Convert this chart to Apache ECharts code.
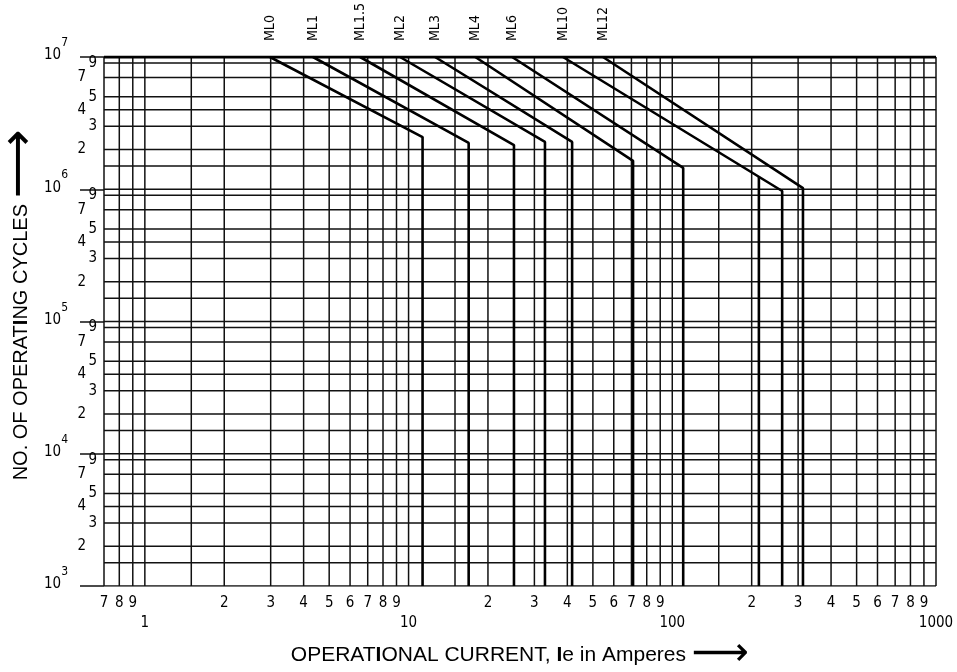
<!DOCTYPE html>
<html><head><meta charset="utf-8">
<script src="https://cdn.jsdelivr.net/npm/echarts@6/dist/echarts.min.js"></script>
<style>html,body{margin:0;padding:0;background:#fff}#c{width:957px;height:672px}</style>
</head><body><div id="c"></div>
<script>
// ---- data ----
const curveNames   = ['ML0', 'ML1', 'ML1.5', 'ML2', 'ML3', 'ML4', 'ML6', 'ML10', 'ML12'];
const startCurrent = [2.98, 4.34, 6.55, 9.28, 12.6, 17.9, 24.7, 38.5, 54.6];     // A at 10^7 cycles
const kneeCurrent  = [11.3, 16.9, 25.1, 32.9, 41.7, 71.0, 110, 261, 313];        // A where curve drops
const kneeCycles   = [2.48e6, 2.24e6, 2.16e6, 2.28e6, 2.28e6, 1.64e6, 1.45e6, 9.7e5, 1.02e6];
const branchCurrent = [213];      // extra drop on the ML10 curve
const branchCycles  = [1.243e6];

const xGridValues = [0.7,0.8,0.9,1,1.5,2,3,4,5,6,7,8,9,10,15,20,30,40,50,60,70,80,90,100,150,200,300,400,500,600,700,800,900,1000];
const yGridMantissas = [1, 1.5, 2, 3, 4, 5, 7, 9];
const yDecades = [1e3, 1e4, 1e5, 1e6, 1e7];
const xMinorLabelValues = [0.7,0.8,0.9,2,3,4,5,6,7,8,9,20,30,40,50,60,70,80,90,200,300,400,500,600,700,800,900];
const xDecadeLabelValues = [1, 10, 100, 1000];
const yLabelMantissas = [2, 3, 4, 5, 7, 9];
const xMin = 0.7, xMax = 1000, yMin = 1e3, yMax = 1e7;

// ---- build helpers ----
const yGridValues = [];
const yLabelValues = [];
yDecades.forEach(d => {
  yGridMantissas.forEach(m => { const v = m * d; if (v <= yMax) yGridValues.push(v); });
  yLabelMantissas.forEach(m => { const v = m * d; if (v <= yMax) yLabelValues.push(v); });
});
function mant(v) {
  const e = Math.floor(Math.log10(v) + 1e-9);
  return { e: e, m: Math.round(v / Math.pow(10, e) * 10) / 10 };
}
const NARROW = '"DejaVu Sans Condensed", "Liberation Sans Narrow", sans-serif';
const SANS = '"Liberation Sans", Arial, sans-serif';

const vGrid = [];
xGridValues.forEach(v => { vGrid.push([v, yMin], [v, yMax], ['-', '-']); });
const hGrid = [];
yGridValues.forEach(v => { hGrid.push([xMin, v], [xMax, v], ['-', '-']); });

const gridStyle = { color: '#111', width: 1.5 };
const series = [
  { type: 'line', name: 'vgrid', data: vGrid, symbol: 'none', silent: true, lineStyle: gridStyle, z: 1, connectNulls: false },
  { type: 'line', name: 'hgrid', data: hGrid, symbol: 'none', silent: true, lineStyle: gridStyle, z: 1, connectNulls: false },
  { type: 'line', name: 'top', data: [[xMin, yMax], [xMax, yMax]], symbol: 'none', silent: true, lineStyle: { color: '#000', width: 3 }, z: 2 }
];
curveNames.forEach((n, i) => {
  series.push({
    type: 'line', name: n, z: 5, silent: true,
    symbol: 'circle', symbolSize: 0, showSymbol: true,
    lineStyle: { color: '#000', width: 2.6 }, itemStyle: { color: '#000' },
    data: [
      { value: [startCurrent[i], yMax], label: { show: true, formatter: n, position: 'top', distance: 16, rotate: 90, align: 'left', verticalAlign: 'middle', fontSize: 14, fontFamily: NARROW, color: '#000' } },
      [kneeCurrent[i], kneeCycles[i]],
      [kneeCurrent[i], yMin]
    ]
  });
});
branchCurrent.forEach((b, i) => {
  series.push({
    type: 'line', name: 'branch' + i, z: 5, silent: true, symbol: 'none',
    lineStyle: { color: '#000', width: 2.6 },
    data: [[b, branchCycles[i]], [b, yMin]]
  });
});

const noLine = { show: false };
const chart = echarts.init(document.getElementById('c'), null, { renderer: 'canvas' });
chart.setOption({
  animation: false,
  backgroundColor: '#fff',
  grid: { left: 104, top: 57, width: 832, height: 529, containLabel: false, outerBoundsMode: 'none' },
  xAxis: [{
    type: 'log', logBase: 10, min: xMin, max: xMax, position: 'bottom',
    axisLine: noLine, axisTick: noLine, splitLine: noLine,
    axisLabel: {
      customValues: xMinorLabelValues, margin: 10, fontSize: 15, fontFamily: NARROW, color: '#000',
      formatter: function (v) { return String(mant(v).m); }
    },
    name: 'OPERAT{b|I}ONAL CURRENT, {b|I}e in Amperes {a|⟶}',
    nameLocation: 'middle', nameGap: 49, nameMoveOverlap: false,
    nameTextStyle: {
      fontSize: 21, fontFamily: SANS, color: '#000',
      rich: { b: { fontSize: 21, fontFamily: SANS, fontWeight: 'bold', color: '#000' },
              a: { fontSize: 40, fontFamily: 'DejaVu Sans', color: '#000' } }
    }
  }, {
    type: 'log', logBase: 10, min: xMin, max: xMax, position: 'bottom', offset: 0,
    axisLine: noLine, axisTick: noLine, splitLine: noLine,
    axisLabel: {
      customValues: xDecadeLabelValues, margin: 30, fontSize: 15, fontFamily: NARROW, color: '#000',
      formatter: function (v) { return String(Math.round(v)); }
    }
  }],
  yAxis: [{
    type: 'log', logBase: 10, min: yMin, max: yMax, position: 'left',
    axisLine: noLine, axisTick: noLine, splitLine: noLine,
    axisLabel: {
      customValues: yLabelValues, margin: 7, fontSize: 15, fontFamily: NARROW, color: '#000',
      formatter: function (v) {
        const r = mant(v);
        if (r.m === 9 || r.m === 5 || r.m === 3) return '{r|' + r.m + '}';
        return '{l|' + r.m + '}';
      },
      rich: {
        r: { fontSize: 15, fontFamily: NARROW, color: '#000' },
        l: { fontSize: 15, fontFamily: NARROW, color: '#000', padding: [0, 11, 0, 0] }
      }
    },
    name: 'NO. OF OPERAT{b|I}NG CYCLES {a|⟶}',
    nameLocation: 'middle', nameRotate: 90, nameGap: 59, nameMoveOverlap: false,
    nameTextStyle: {
      fontSize: 20, fontFamily: SANS, color: '#000', padding: [0, 0, 0, 33],
      rich: { b: { fontSize: 20, fontFamily: SANS, fontWeight: 'bold', color: '#000' },
              a: { fontSize: 48, fontFamily: 'DejaVu Sans', color: '#000' } }
    }
  }, {
    type: 'log', logBase: 10, min: yMin, max: yMax, position: 'left', offset: 0,
    axisLine: noLine, splitLine: noLine,
    axisTick: { show: true, customValues: yDecades, length: 24, inside: false, lineStyle: { color: '#111', width: 1.5 } },
    axisLabel: {
      customValues: yDecades, margin: 7, fontSize: 15, fontFamily: NARROW, color: '#000', padding: [0, 0, 14, 0],
      formatter: function (v) { return '{d|10}{s|' + mant(v).e + '}'; },
      rich: {
        d: { fontSize: 15, lineHeight: 26, verticalAlign: 'bottom', fontFamily: NARROW, color: '#000' },
        s: { fontSize: 12, lineHeight: 12, verticalAlign: 'top', fontFamily: NARROW, color: '#000', padding: [0, 29, 0, 0] }
      }
    }
  }],
  series: series
});
</script>
</body></html>
